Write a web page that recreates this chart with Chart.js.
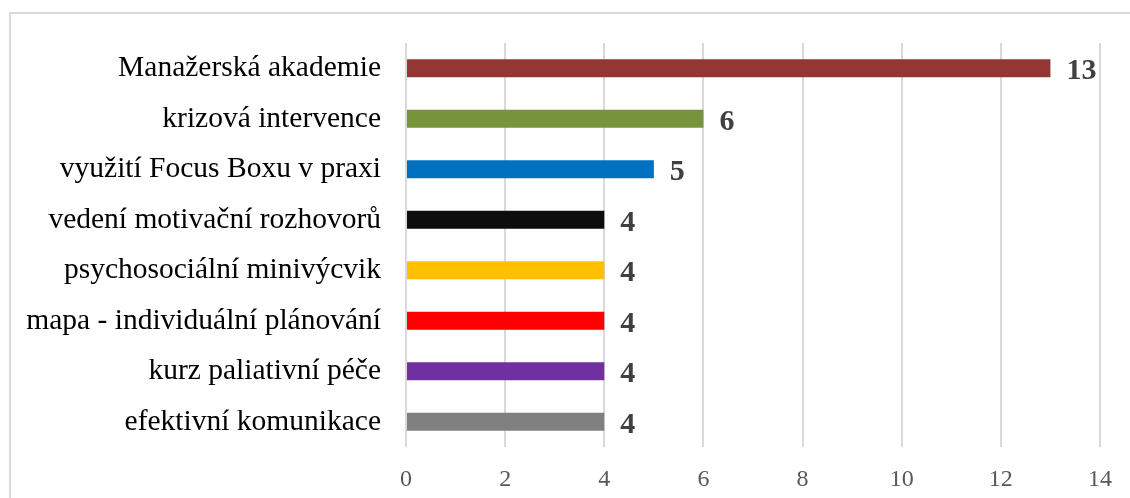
<!DOCTYPE html>
<html>
<head>
<meta charset="utf-8">
<script src="https://cdn.jsdelivr.net/npm/chart.js@4/dist/chart.umd.min.js"></script>
<style>
    html, body { margin: 0; padding: 0; background: #fff; overflow: hidden; }
    #frame {
        position: absolute; left: 9px; top: 12px;
        width: 1300px; height: 700px;
        border: 2px solid #d9d9d9;
    }
    #wrap { position: absolute; left: 0; top: 0; width: 1130px; height: 498px; }
</style>
</head>
<body>
<div id="frame"></div>
<div id="wrap"><canvas id="chart"></canvas></div>
<script>
const categories = [
    "Manažerská akademie",
    "krizová intervence",
    "využití Focus Boxu v praxi",
    "vedení motivační rozhovorů",
    "psychosociální minivýcvik",
    "mapa - individuální plánování",
    "kurz paliativní péče",
    "efektivní komunikace"
];
const counts = [13, 6, 5, 4, 4, 4, 4, 4];
const barColors = ["#943634", "#77933c", "#0070c0", "#0d0d0d", "#ffc000", "#ff0000", "#7030a0", "#808080"];
const xTicks = [0, 2, 4, 6, 8, 10, 12, 14];

const serif = "'Liberation Serif', 'Times New Roman', serif";

// value labels right of each bar
const valueLabels = {
    id: "valueLabels",
    afterDatasetsDraw(chart) {
        const ctx = chart.ctx;
        const meta = chart.getDatasetMeta(0);
        ctx.save();
        ctx.font = "bold 30px " + serif;
        ctx.fillStyle = "#404040";
        ctx.textAlign = "left";
        ctx.textBaseline = "alphabetic";
        meta.data.forEach((bar, i) => {
            ctx.fillText(String(counts[i]), bar.x + 16, bar.y + 11);
        });
        ctx.restore();
    }
};

new Chart(document.getElementById("chart"), {
    type: "bar",
    data: {
        labels: categories,
        datasets: [{
            data: counts,
            backgroundColor: barColors,
            borderWidth: 0,
            barPercentage: 0.72,
            categoryPercentage: 0.5
        }]
    },
    options: {
        indexAxis: "y",
        responsive: true,
        maintainAspectRatio: false,
        animation: false,
        layout: { padding: { top: 43, right: 22, bottom: 0, left: 0 } },
        plugins: {
            legend: { display: false },
            tooltip: { enabled: false }
        },
        scales: {
            x: {
                min: 0,
                max: 14,
                afterBuildTicks(scale) {
                    scale.ticks = xTicks.map(v => ({ value: v }));
                },
                afterFit(scale) { scale.height = 51; },
                grid: { color: "#d9d9d9", lineWidth: 2, drawTicks: false },
                border: { display: false },
                ticks: {
                    color: "#595959",
                    padding: 18,
                    font: { family: serif, size: 24 }
                }
            },
            y: {
                afterFit(scale) { scale.width = 406; },
                grid: { display: false, drawTicks: false },
                border: { display: false },
                ticks: {
                    color: "#000",
                    padding: 25,
                    font: { family: serif, size: 29.5 }
                }
            }
        }
    },
    plugins: [valueLabels]
});
</script>
</body>
</html>
